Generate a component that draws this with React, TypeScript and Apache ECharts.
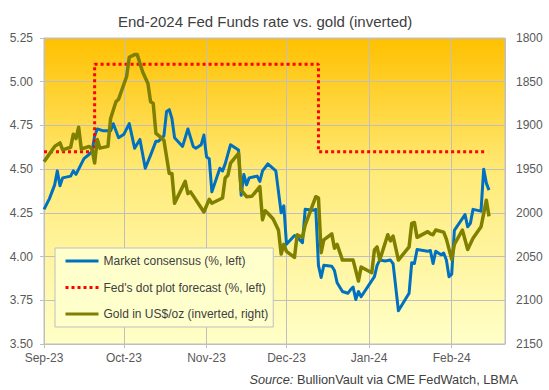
import React, { useEffect, useRef } from "react";
import * as echarts from "echarts";

const chartTitle = "End-2024 Fed Funds rate vs. gold (inverted)";
const sourceText = "{i|Source:} BullionVault via CME FedWatch, LBMA";
const monthNames = ["Jan", "Feb", "Mar", "Apr", "May", "Jun", "Jul", "Aug", "Sep", "Oct", "Nov", "Dec"];
const seriesNames = [
  "Market consensus (%, left)",
  "Fed's dot plot forecast (%, left)",
  "Gold in US$/oz (inverted, right)",
];
const xStart = "2023-09-01";
const xEnd = "2024-02-21";
const leftMin = 3.5;
const leftMax = 5.25;
const leftStep = 0.25;
const rightMin = 1800;
const rightMax = 2150;
const rightStep = 50;

const marketDates = [
  "2023-09-01", "2023-09-03", "2023-09-05", "2023-09-06", "2023-09-07", "2023-09-08", "2023-09-11", "2023-09-12",
  "2023-09-13", "2023-09-15", "2023-09-16", "2023-09-18", "2023-09-19", "2023-09-20", "2023-09-21", "2023-09-23",
  "2023-09-26", "2023-09-27", "2023-09-29", "2023-10-01", "2023-10-03", "2023-10-05", "2023-10-07", "2023-10-09",
  "2023-10-11", "2023-10-13", "2023-10-14", "2023-10-16", "2023-10-17", "2023-10-18", "2023-10-19", "2023-10-20",
  "2023-10-23", "2023-10-25", "2023-10-27", "2023-10-28", "2023-10-30", "2023-10-31", "2023-11-01", "2023-11-02",
  "2023-11-03", "2023-11-06", "2023-11-07", "2023-11-08", "2023-11-10", "2023-11-13", "2023-11-14", "2023-11-15",
  "2023-11-16", "2023-11-17", "2023-11-20", "2023-11-21", "2023-11-22", "2023-11-24", "2023-11-27", "2023-11-29",
  "2023-11-30", "2023-12-01", "2023-12-04", "2023-12-05", "2023-12-07", "2023-12-08", "2023-12-11", "2023-12-12",
  "2023-12-13", "2023-12-14", "2023-12-15", "2023-12-18", "2023-12-19", "2023-12-20", "2023-12-22", "2023-12-24",
  "2023-12-25", "2023-12-26", "2023-12-27", "2023-12-28", "2023-12-29", "2024-01-03", "2024-01-04", "2024-01-05",
  "2024-01-07", "2024-01-09", "2024-01-10", "2024-01-12", "2024-01-16", "2024-01-17", "2024-01-18", "2024-01-19",
  "2024-01-23", "2024-01-24", "2024-01-25", "2024-01-26", "2024-01-28", "2024-01-29", "2024-01-30", "2024-01-31",
  "2024-02-01", "2024-02-02", "2024-02-06", "2024-02-07", "2024-02-08", "2024-02-09", "2024-02-12", "2024-02-13",
  "2024-02-14", "2024-02-15",
];
const marketValues = [
  4.27, 4.33, 4.41, 4.49, 4.405, 4.45, 4.46, 4.49,
  4.47, 4.53, 4.56, 4.585, 4.6, 4.69, 4.73, 4.72,
  4.72, 4.76, 4.68, 4.7, 4.76, 4.62, 4.67, 4.505,
  4.58, 4.66, 4.66, 4.69, 4.83, 4.84, 4.79, 4.68,
  4.63, 4.73, 4.63, 4.62, 4.64, 4.695, 4.57, 4.56,
  4.37, 4.505, 4.49, 4.53, 4.64, 4.61, 4.35, 4.47,
  4.41, 4.45, 4.46, 4.43, 4.49, 4.53, 4.49, 4.25,
  4.29, 4.07, 4.12, 4.11, 4.08, 4.27, 4.265, 4.27,
  3.95, 3.88, 3.95, 3.945, 3.92, 3.85, 3.8, 3.79,
  3.81, 3.825, 3.755, 3.8, 3.77, 3.885, 3.95, 3.98,
  3.975, 3.98, 3.96, 3.69, 3.79, 3.965, 3.96, 4.04,
  4.03, 4.035, 3.96, 4.03, 4.01, 4.02, 3.98, 3.885,
  3.9, 4.15, 4.24, 4.17, 4.19, 4.27, 4.26, 4.5,
  4.42, 4.38,
];

const fedDates = ["2023-09-01", "2023-09-20", "2023-09-20", "2023-12-13", "2023-12-13", "2024-02-14"];
const fedValues = [4.6, 4.6, 5.1, 5.1, 4.6, 4.6];

const goldDates = [
  "2023-09-01", "2023-09-05", "2023-09-07", "2023-09-08", "2023-09-11", "2023-09-12", "2023-09-13", "2023-09-14",
  "2023-09-15", "2023-09-18", "2023-09-19", "2023-09-20", "2023-09-21", "2023-09-22", "2023-09-25", "2023-09-26",
  "2023-09-28", "2023-09-29", "2023-10-02", "2023-10-03", "2023-10-05", "2023-10-06", "2023-10-08", "2023-10-10",
  "2023-10-11", "2023-10-12", "2023-10-13", "2023-10-15", "2023-10-16", "2023-10-18", "2023-10-19", "2023-10-20",
  "2023-10-24", "2023-10-25", "2023-10-26", "2023-10-31", "2023-11-02", "2023-11-03", "2023-11-07", "2023-11-08",
  "2023-11-09", "2023-11-10", "2023-11-13", "2023-11-14", "2023-11-16", "2023-11-18", "2023-11-21", "2023-11-22",
  "2023-11-23", "2023-11-24", "2023-11-26", "2023-11-28", "2023-11-29", "2023-11-30", "2023-12-01", "2023-12-04",
  "2023-12-05", "2023-12-07", "2023-12-08", "2023-12-12", "2023-12-13", "2023-12-14", "2023-12-15", "2023-12-18",
  "2023-12-19", "2023-12-20", "2023-12-22", "2023-12-26", "2023-12-28", "2023-12-29", "2024-01-02", "2024-01-03",
  "2024-01-04", "2024-01-05", "2024-01-08", "2024-01-09", "2024-01-10", "2024-01-12", "2024-01-16", "2024-01-17",
  "2024-01-18", "2024-01-19", "2024-01-23", "2024-01-24", "2024-01-25", "2024-01-26", "2024-01-29", "2024-01-30",
  "2024-02-01", "2024-02-02", "2024-02-05", "2024-02-07", "2024-02-09", "2024-02-12", "2024-02-14", "2024-02-15",
];
const goldValues = [
  1941.5, 1924, 1920, 1928, 1925, 1910, 1915, 1902,
  1927, 1924, 1927, 1943, 1916, 1926, 1924, 1892,
  1873, 1870, 1844, 1822, 1819, 1819, 1838.5, 1852,
  1873, 1875, 1909, 1914, 1917, 1955, 1955, 1989,
  1964, 1978, 1976, 1999, 1984.5, 1989, 1983, 1960,
  1957, 1943, 1932, 1974, 1981.5, 1981, 1970, 2008,
  1997.5, 2000.5, 2007, 2020, 2047, 2036, 2044, 2051,
  2025, 2028, 2014, 1981.5, 1983, 2045.5, 2031, 2024,
  2040.5, 2036, 2054, 2054, 2078, 2062, 2068.5, 2042.5,
  2039, 2054, 2025, 2032, 2026.5, 2054, 2039, 2012,
  2011, 2028, 2021.5, 2024, 2025, 2019.6, 2022, 2030,
  2053, 2036, 2019.6, 2042, 2029, 2016, 1985.5, 2004,
];

const FONT = "'Liberation Sans', Arial, sans-serif";
const DAY = 86400000;

function ts(s: string): number {
  const [y, m, d] = s.split("-").map(Number);
  return new Date(y, m - 1, d).getTime();
}

function pairs(dates: string[], values: number[]) {
  return dates.map((d, i) => [ts(d), values[i]]);
}

export default function App() {
  const ref = useRef<HTMLDivElement>(null);
  useEffect(() => {
    if (!ref.current) return;
    const chart = echarts.init(ref.current, undefined, { renderer: "svg" });
    chart.setOption({
      animation: false,
      backgroundColor: "#ffffff",
      textStyle: { fontFamily: FONT },
      title: [
        {
          text: chartTitle,
          left: 113,
          top: 9,
          textStyle: { fontFamily: FONT, fontSize: 15, fontWeight: "normal", color: "#404040" },
        },
        {
          text: sourceText,
          right: 31,
          top: 373,
          padding: 0,
          textStyle: {
            fontFamily: FONT,
            fontSize: 12.75,
            fontWeight: "normal",
            color: "#404040",
            rich: { i: { fontFamily: FONT, fontSize: 12.75, fontStyle: "italic", color: "#404040" } },
          },
        },
      ],
      grid: {
        left: 44,
        right: 44,
        top: 38,
        bottom: 46,
        show: true,
        borderColor: "#BFBFBF",
        borderWidth: 1,
        backgroundColor: new echarts.graphic.LinearGradient(0, 0, 0, 1, [
          { offset: 0, color: "#FFC000" },
          { offset: 0.45, color: "#FFEB7A" },
          { offset: 1, color: "#FFFFC8" },
        ]),
      },
      legend: {
        orient: "vertical",
        left: 55,
        top: 248,
        itemWidth: 33,
        itemHeight: 14,
        itemGap: 14.5,
        padding: [7, 5, 7, 9],
        backgroundColor: "#FFFFCC",
        borderColor: "#BFBFBF",
        borderWidth: 1,
        itemStyle: { opacity: 0, borderWidth: 0 },
        lineStyle: { width: 3 },
        textStyle: { fontFamily: FONT, fontSize: 12, color: "#404040" },
        data: seriesNames,
      },
      xAxis: {
        type: "time",
        min: ts(xStart),
        max: ts(xEnd),
        minInterval: 28 * DAY,
        maxInterval: 31 * DAY,
        splitNumber: 6,
        axisLine: { show: true, lineStyle: { color: "#BFBFBF" } },
        axisTick: { show: true, length: 4, lineStyle: { color: "#BFBFBF" } },
        splitLine: { show: true, lineStyle: { color: "#BFBFBF", width: 1 } },
        axisLabel: {
          fontFamily: FONT,
          fontSize: 12,
          color: "#595959",
          margin: 8,
          showMaxLabel: false,
          formatter: (v: number) => {
            const d = new Date(v);
            return monthNames[d.getMonth()] + "-" + String(d.getFullYear()).slice(2);
          },
        },
      },
      yAxis: [
        {
          type: "value",
          min: leftMin,
          max: leftMax,
          interval: leftStep,
          axisLine: { show: true, lineStyle: { color: "#BFBFBF" } },
          axisTick: { show: true, length: 4, lineStyle: { color: "#BFBFBF" } },
          splitLine: { show: true, lineStyle: { color: "#BFBFBF", width: 1 } },
          axisLabel: {
            fontFamily: FONT,
            fontSize: 12,
            color: "#595959",
            margin: 11,
            formatter: (v: number) => v.toFixed(2),
          },
        },
        {
          type: "value",
          min: rightMin,
          max: rightMax,
          interval: rightStep,
          inverse: true,
          position: "right",
          axisLine: { show: false },
          axisTick: { show: false },
          splitLine: { show: false },
          axisLabel: {
            fontFamily: FONT,
            fontSize: 12,
            color: "#595959",
            margin: 11,
            formatter: (v: number) => String(v),
          },
        },
      ],
      series: [
        {
          name: seriesNames[0],
          type: "line",
          data: pairs(marketDates, marketValues),
          symbol: "none",
          color: "#0070C0",
          lineStyle: { color: "#0070C0", width: 3, join: "round" },
        },
        {
          name: seriesNames[1],
          type: "line",
          data: pairs(fedDates, fedValues),
          symbol: "none",
          color: "#FF0000",
          lineStyle: { color: "#FF0000", width: 3, type: "dotted" },
        },
        {
          name: seriesNames[2],
          type: "line",
          yAxisIndex: 1,
          data: pairs(goldDates, goldValues),
          symbol: "none",
          color: "#808000",
          lineStyle: { color: "#808000", width: 3.5, join: "round" },
        },
      ],
    });
    return () => chart.dispose();
  }, []);
  return (
    <div
      ref={ref}
      style={{ position: "absolute", left: 0, top: 0, width: 549, height: 390 }}
    />
  );
}
